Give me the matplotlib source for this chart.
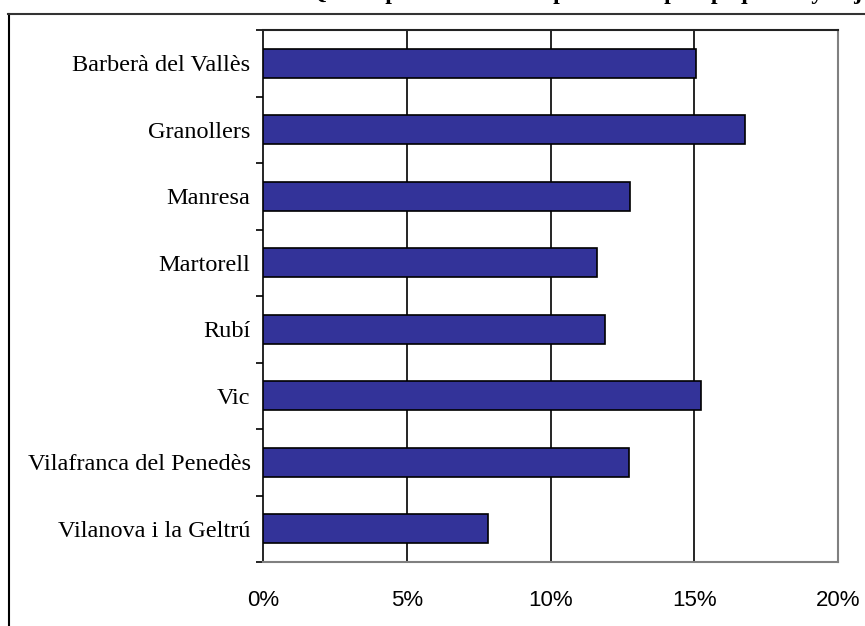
import matplotlib
matplotlib.use("Agg")
import matplotlib.pyplot as plt
from matplotlib.lines import Line2D
from matplotlib.ticker import FixedLocator

towns = [
    "Barberà del Vallès",
    "Granollers",
    "Manresa",
    "Martorell",
    "Rubí",
    "Vic",
    "Vilafranca del Penedès",
    "Vilanova i la Geltrú",
]
values = [15.05, 16.77, 12.77, 11.6, 11.88, 15.23, 12.73, 7.83]
xticks = [0, 5, 10, 15, 20]
xlabels = ["0%", "5%", "10%", "15%", "20%"]
title = "Tasa de crecimiento anual del ISQ en el período 1991-96 por municipios pequeños y bajos"

W, H = 865, 626
fig = plt.figure(figsize=(W / 100, H / 100), dpi=100)
ax = fig.add_axes([263 / W, 1 - 562 / H, (838 - 263) / W, (562 - 30) / H])

ypos = list(range(len(towns)))
ax.barh(ypos, values, height=0.43, color="#333399", edgecolor="black", linewidth=1.2, zorder=3)

ax.set_xlim(0, 20)
ax.set_ylim(len(towns) - 0.5, -0.5)
for x in xticks[1:-1]:
    ax.axvline(x, color="black", lw=1.2, zorder=1)

ax.set_xticks(xticks)
ax.set_xticklabels(xlabels, fontfamily="Liberation Sans", fontsize=16)
ax.tick_params(axis="x", length=0, pad=20)

ax.set_yticks(ypos)
ax.set_yticklabels(towns, fontfamily="Liberation Serif", fontsize=17.5)
ax.tick_params(axis="y", which="major", length=0, pad=9)
ax.yaxis.set_minor_locator(FixedLocator([i - 0.5 for i in range(len(towns) + 1)]))
ax.tick_params(axis="y", which="minor", length=5, width=1.2, color="black", direction="out")

for s in ["right", "bottom"]:
    ax.spines[s].set_color("#808080")
    ax.spines[s].set_linewidth(1.5)
ax.spines["top"].set_color("#222222")
ax.spines["top"].set_linewidth(1.5)
ax.spines["left"].set_color("black")
ax.spines["left"].set_linewidth(1.2)

# outer chart frame, cut off by the image edge
fig.add_artist(Line2D([8.5 / W, 8.5 / W], [0, 1 - 14 / H], transform=fig.transFigure, color="black", lw=1.5))
fig.add_artist(Line2D([8 / W, 1], [1 - 14 / H, 1 - 14 / H], transform=fig.transFigure, color="#333333", lw=1.5))

# title sits mostly above the visible area, as in the original export
fig.text(0.5, 1 + 1 / H, title, ha="center", va="baseline", fontfamily="Liberation Serif",
         fontweight="bold", fontsize=17)

fig.savefig("out.png", dpi=100)
